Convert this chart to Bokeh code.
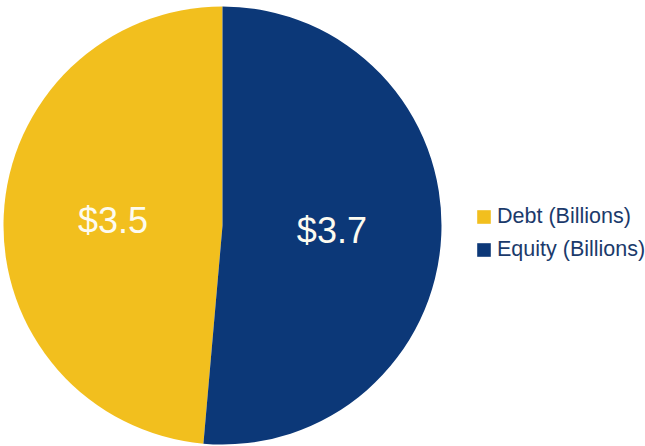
import math
from bokeh.plotting import figure
from bokeh.models import ColumnDataSource, Legend, LegendItem
from bokeh.core.properties import value
from bokeh.embed import file_html
from bokeh.resources import INLINE

categories = ["Debt (Billions)", "Equity (Billions)"]
amounts = [3.5, 3.7]
labels = ["$3.5", "$3.7"]
colors = ["#F2BF1E", "#0C3878"]

W, H = 645, 446
cx, cy, R = 222, 221, 219

total = sum(amounts)
starts, ends, lx, ly = [], [], [], []
a = math.pi / 2
for v in amounts:
    span = 2 * math.pi * v / total
    starts.append(a)
    ends.append(a + span)
    mid = a + span / 2
    lx.append(cx + 0.5 * R * math.cos(mid))
    ly.append(cy + 0.5 * R * math.sin(mid))
    a += span

src = ColumnDataSource(dict(cat=categories, start=starts, end=ends, color=colors,
                            lx=lx, ly=ly, lab=labels))

p = figure(width=W, height=H, x_range=(0, W), y_range=(0, H),
           output_backend="svg", toolbar_location=None, min_border=0)
p.axis.visible = False
p.grid.visible = False
p.outline_line_color = None
p.background_fill_color = "white"

r = p.wedge(x=cx, y=cy, radius=R, start_angle="start", end_angle="end",
            color="color", line_color=None, source=src)

p.text(x="lx", y="ly", text="lab", source=src, text_align="center",
       text_baseline="middle", text_font=value("Liberation Sans"),
       text_font_size="36px", text_color="#FDFBF0")

legend = Legend(items=[LegendItem(label=categories[0], renderers=[r], index=0),
                       LegendItem(label=categories[1], renderers=[r], index=1)],
                location=(475, 184), orientation="vertical",
                glyph_width=17, glyph_height=17, label_standoff=5,
                spacing=8, padding=0, margin=0,
                label_text_font="Liberation Sans", label_text_font_size="21.5px",
                label_text_color="#1B3A6B", label_height=20,
                background_fill_alpha=0, border_line_color=None)
p.add_layout(legend)

open("out.html", "w").write(file_html(p, INLINE))
